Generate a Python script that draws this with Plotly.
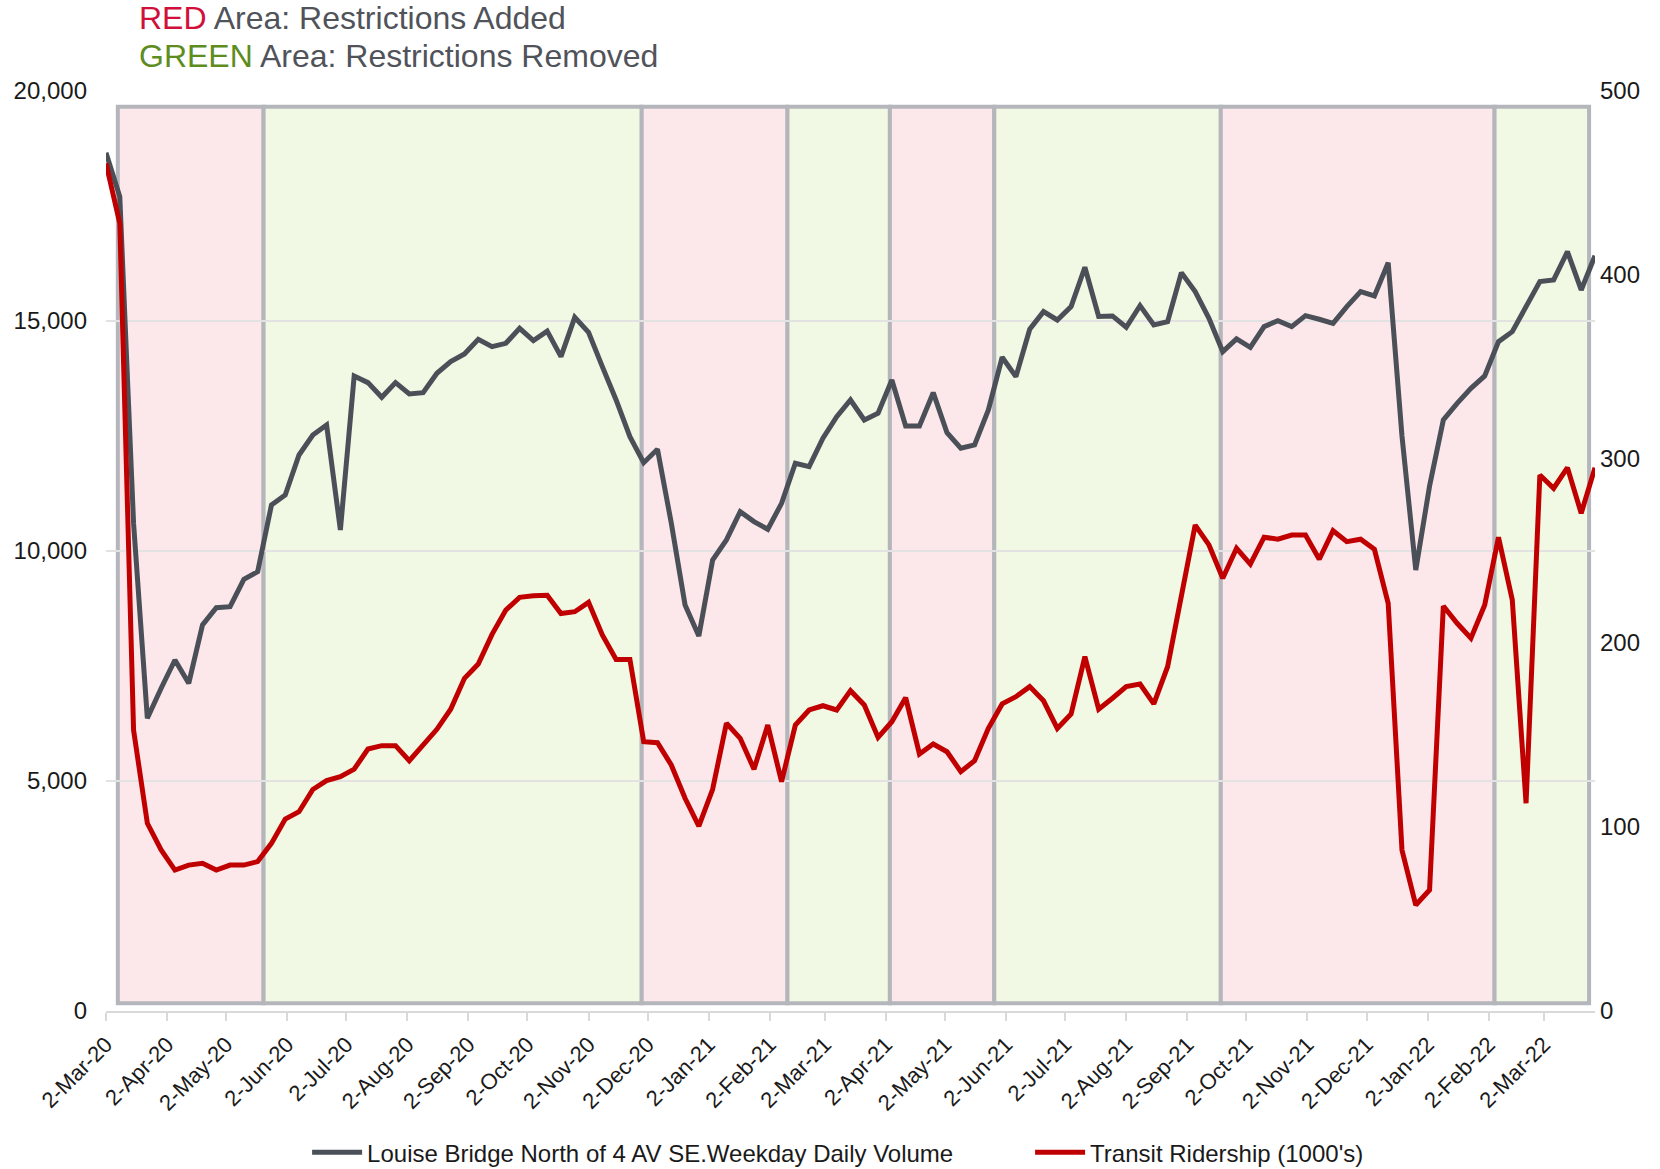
import plotly.graph_objects as go
import pandas as pd

# ---------------- data ----------------
week_dates = pd.date_range("2020-03-02", periods=109, freq="7D")

bridge_volume = [
    18660, 17700, 10600, 6363, 7015, 7631, 7124, 8392, 8768, 8790,
    9385, 9551, 11000, 11218, 12087, 12522, 12740, 10457, 13805, 13660,
    13342, 13660, 13414, 13442, 13864, 14116, 14283, 14602, 14442, 14515,
    14842, 14573, 14780, 14225, 15080, 14755, 14007, 13283, 12486, 11920,
    12211, 10609, 8827, 8153, 9805, 10240, 10855, 10638, 10472, 11037,
    11907, 11834, 12451, 12921, 13283, 12848, 12994, 13718, 12718, 12718,
    13442, 12572, 12233, 12305, 13066, 14212, 13790, 14820, 15203, 15022,
    15312, 16168, 15100, 15110, 14864, 15334, 14914, 14986, 16052, 15638,
    15059, 14334, 14610, 14429, 14878, 15008, 14878, 15117, 15038, 14950,
    15312, 15638, 15544, 16268, 12500, 9587, 11413, 12848, 13211, 13537,
    13805, 14551, 14768, 15312, 15856, 15892, 16507, 15675, 16420,
]

transit_ridership = [
    460.7, 428.0, 152.7, 102.0, 87.5, 76.6, 79.3, 80.3, 76.6, 79.3,
    79.3, 81.2, 91.1, 104.3, 108.3, 120.4, 125.2, 127.3, 131.4, 142.4,
    144.2, 144.2, 136.0, 145.0, 153.1, 164.0, 180.8, 188.6, 204.7, 217.9,
    224.8, 225.7, 225.9, 216.0, 217.0, 222.1, 204.4, 191.1, 191.1, 146.4,
    145.8, 133.7, 115.6, 100.5, 120.5, 156.4, 148.2, 131.4, 155.4, 124.6,
    155.4, 163.6, 165.9, 163.6, 174.1, 166.3, 148.7, 157.2, 170.3, 139.7,
    145.1, 140.9, 130.1, 136.0, 153.6, 166.9, 170.8, 176.3, 168.6, 153.6,
    161.4, 192.6, 164.0, 170.0, 176.3, 177.7, 166.9, 187.1, 224.0, 264.1,
    253.3, 235.2, 251.5, 242.9, 257.5, 256.4, 258.7, 258.7, 245.5, 261.0,
    255.1, 256.4, 250.9, 221.6, 87.5, 57.6, 65.8, 220.1, 210.7, 202.6,
    220.7, 257.5, 223.4, 112.9, 291.3, 284.1, 295.3, 270.5, 295.3,
]

tick_dates = [
    "2020-03-02", "2020-04-02", "2020-05-02", "2020-06-02", "2020-07-02",
    "2020-08-02", "2020-09-02", "2020-10-02", "2020-11-02", "2020-12-02",
    "2021-01-02", "2021-02-02", "2021-03-02", "2021-04-02", "2021-05-02",
    "2021-06-02", "2021-07-02", "2021-08-02", "2021-09-02", "2021-10-02",
    "2021-11-02", "2021-12-02", "2022-01-02", "2022-02-02", "2022-03-02",
]
tick_labels = [
    "2-Mar-20", "2-Apr-20", "2-May-20", "2-Jun-20", "2-Jul-20",
    "2-Aug-20", "2-Sep-20", "2-Oct-20", "2-Nov-20", "2-Dec-20",
    "2-Jan-21", "2-Feb-21", "2-Mar-21", "2-Apr-21", "2-May-21",
    "2-Jun-21", "2-Jul-21", "2-Aug-21", "2-Sep-21", "2-Oct-21",
    "2-Nov-21", "2-Dec-21", "2-Jan-22", "2-Feb-22", "2-Mar-22",
]

# restriction periods
period_starts = ["2020-03-08", "2020-05-21", "2020-11-29", "2021-02-11", "2021-04-04",
                 "2021-05-27", "2021-09-19", "2022-02-05"]
period_ends = ["2020-05-21", "2020-11-29", "2021-02-11", "2021-04-04", "2021-05-27",
               "2021-09-19", "2022-02-05", "2022-03-25"]
period_kinds = ["added", "removed", "added", "removed", "added", "removed", "added", "removed"]
band_low, band_high = 170, 19660

# ---------------- styles ----------------
GREY = "#4B4F57"
RED = "#C00000"
PINK_FILL = "#FCE7EA"
GREEN_FILL = "#F1F8E4"
BORDER = "#B4B6BB"
FONT = "Liberation Sans, Arial, sans-serif"
TXT = "#1A1A1A"

fig = go.Figure()

fig.add_trace(go.Scatter(
    x=week_dates, y=bridge_volume, mode="lines",
    name="Louise Bridge North of 4 AV SE.Weekday Daily Volume",
    line=dict(color=GREY, width=5), yaxis="y",
))
fig.add_trace(go.Scatter(
    x=week_dates, y=transit_ridership, mode="lines",
    name="Transit Ridership (1000's)",
    line=dict(color=RED, width=5), yaxis="y2",
))

shapes = []
for s, e, k in zip(period_starts, period_ends, period_kinds):
    shapes.append(dict(
        type="rect", xref="x", yref="y", x0=s, x1=e, y0=band_low, y1=band_high,
        fillcolor=PINK_FILL if k == "added" else GREEN_FILL,
        line=dict(color=BORDER, width=4), layer="below",
    ))

annotations = [
    dict(xref="paper", yref="paper", x=0.0208, y=1.079, xanchor="left", yanchor="middle",
         showarrow=False, font=dict(family=FONT, size=32, color="#50535A"),
         text="<span style='color:#D0103A'>RED</span> Area: Restrictions Added"),
    dict(xref="paper", yref="paper", x=0.0208, y=1.038, xanchor="left", yanchor="middle",
         showarrow=False, font=dict(family=FONT, size=32, color="#50535A"),
         text="<span style='color:#5E8C1F'>GREEN</span> Area: Restrictions Removed"),
]

fig.update_layout(
    width=1660, height=1169,
    margin=dict(l=106, r=65, t=91, b=158, autoexpand=False),
    paper_bgcolor="white", plot_bgcolor="white",
    font=dict(family=FONT, color=TXT),
    shapes=shapes, annotations=annotations,
    showlegend=True,
    legend=dict(orientation="h", xref="container", yref="container",
                x=0.185, xanchor="left", y=0.014, yanchor="middle",
                font=dict(family=FONT, size=24, color=TXT),
                itemwidth=50, entrywidth=658, bgcolor="rgba(0,0,0,0)"),
    xaxis=dict(
        type="date", range=["2020-03-02", "2022-03-28"],
        tickvals=tick_dates, ticktext=tick_labels, tickangle=-45,
        tickfont=dict(family=FONT, size=22, color=TXT),
        showgrid=False, zeroline=False, automargin=False,
        showline=True, linecolor="#D9D9D9", linewidth=2,
        ticks="outside", ticklen=8, tickwidth=2, tickcolor="#D9D9D9",
        ticklabelstandoff=2,
    ),
    yaxis=dict(
        range=[0, 20000], tickvals=[0, 5000, 10000, 15000, 20000], tickformat=",d",
        tickfont=dict(family=FONT, size=24, color=TXT),
        showgrid=True, gridcolor="#E2E2E2", gridwidth=2, automargin=False,
        zeroline=False, showline=False, ticks="", ticklabelstandoff=18,
    ),
    yaxis2=dict(
        range=[0, 500], tickvals=[0, 100, 200, 300, 400, 500],
        overlaying="y", side="right", automargin=False,
        tickfont=dict(family=FONT, size=24, color=TXT),
        showgrid=False, zeroline=False, showline=False, ticks="", ticklabelstandoff=4,
    ),
)

fig.write_html(
    "out.html",
    config={"displayModeBar": False},
    post_script="document.body.style.margin='0px'; document.body.style.overflow='hidden';",
)
